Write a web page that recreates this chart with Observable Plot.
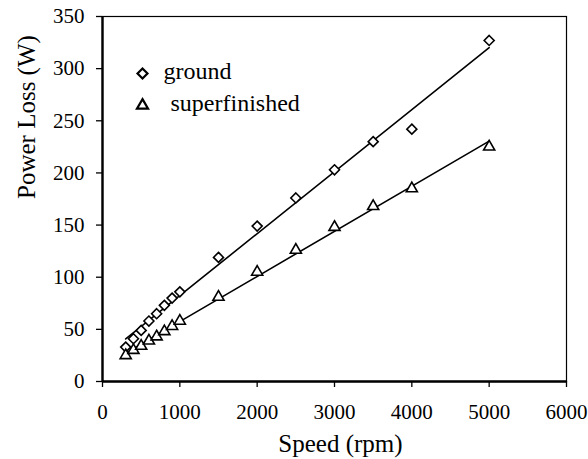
<!DOCTYPE html>
<html><head><meta charset="utf-8">
<script src="https://cdn.jsdelivr.net/npm/d3@7"></script>
<script src="https://cdn.jsdelivr.net/npm/@observablehq/plot@0.6"></script>
<style>
body{margin:0;background:#fff;}
#chart{position:relative;width:588px;height:459px;}
#chart svg{font-family:"Liberation Serif","Times New Roman",serif;font-size:21px;}
</style></head>
<body><div id="chart"></div>
<script>
const speeds = [300, 400, 500, 600, 700, 800, 900, 1000, 1500, 2000, 2500, 3000, 3500, 4000, 5000];
const ground = [33, 41, 49, 58, 65, 73, 80, 86, 119, 149, 176, 203, 230, 242, 327];
const superfinished = [25, 30, 34, 39, 43, 48, 53, 58, 81, 105, 126, 148, 168, 185, 225];
const seriesNames = ["ground", "superfinished"];
const symbols = ["diamond2", "triangle2"];
const symbolR = [4.5, 5.3];
const xTicks = [0, 1000, 2000, 3000, 4000, 5000, 6000];
const yTicks = [0, 50, 100, 150, 200, 250, 300, 350];

const data = [];
speeds.forEach((s, i) => {
  data.push({speed: s, loss: ground[i], series: seriesNames[0]});
  data.push({speed: s, loss: superfinished[i], series: seriesNames[1]});
});

const dotMarks = seriesNames.map((n, i) =>
  Plot.dot(data.filter(d => d.series === n), {x: "speed", y: "loss", symbol: "series", r: symbolR[i], stroke: "#000", strokeWidth: 1.6, fill: "#fff"})
);

const legendMarks = seriesNames.flatMap((n, i) => [
  Plot.dot([n], {frameAnchor: "top-left", dx: 40, dy: 57 + 32 * i, symbol: d => d, r: symbolR[i], stroke: "#000", strokeWidth: 2.2, fill: "#fff"}),
  Plot.text([n], {frameAnchor: "top-left", text: d => d, textAnchor: "start", lineAnchor: "middle", fontSize: 24, dx: 61 + 7 * i, dy: 55 + 32 * i, fill: "#000"})
]);

const chart = Plot.plot({
  width: 588, height: 459,
  marginLeft: 102, marginRight: 22, marginTop: 16, marginBottom: 78,
  style: {fontFamily: "'Liberation Serif','Times New Roman',serif", fontSize: "21px", color: "#000", background: "#fff"},
  x: {domain: [0, 6000], ticks: xTicks, label: null},
  y: {domain: [0, 350], ticks: yTicks, label: null},
  symbol: {domain: seriesNames, range: symbols},
  marks: [
    Plot.frame({stroke: "#000", strokeWidth: 1.2}),
    Plot.axisX({ticks: xTicks, tickSize: 6, tickPadding: 17, tickFormat: d => String(d), strokeWidth: 1.3}),
    Plot.axisY({ticks: yTicks, tickSize: 6, tickPadding: 12, tickFormat: d => String(d), strokeWidth: 1.3}),
    Plot.ruleY([0], {stroke: "#000", strokeWidth: 2.4}),
    Plot.ruleX([0], {stroke: "#000", strokeWidth: 2.4}),
    Plot.linearRegressionY(data, {x: "speed", y: "loss", z: "series", stroke: "#000", strokeWidth: 1.6, ci: 0}),
    ...dotMarks,
    ...legendMarks,
    Plot.text(["Speed (rpm)"], {frameAnchor: "bottom", text: d => d, lineAnchor: "middle", fontSize: 25, dx: 6, dy: 62, fill: "#000"}),
    Plot.text(["Power Loss (W)"], {frameAnchor: "left", text: d => d, lineAnchor: "middle", fontSize: 25, rotate: -90, dx: -76, dy: 0, fill: "#000"})
  ]
});
document.getElementById("chart").appendChild(chart);
</script></body></html>
